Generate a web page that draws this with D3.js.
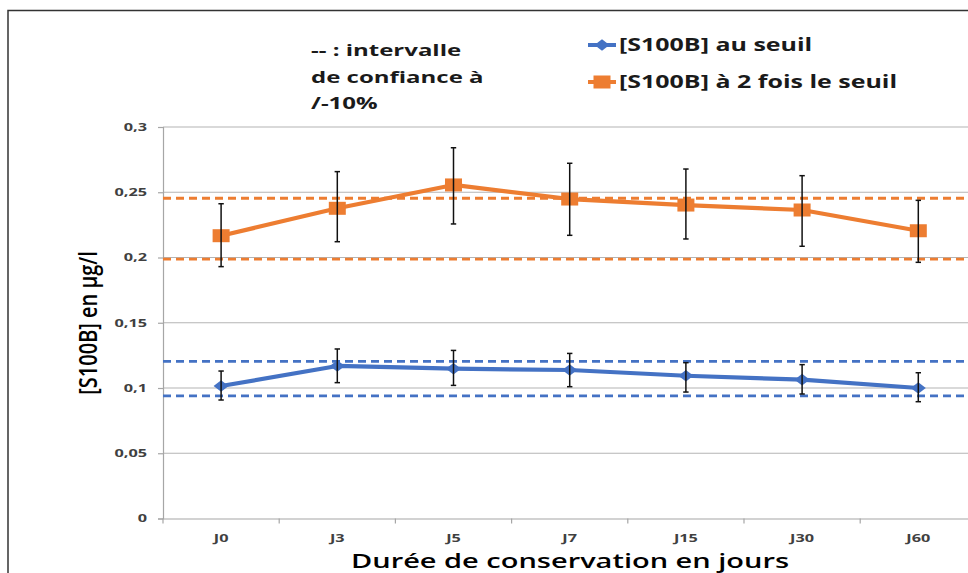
<!DOCTYPE html>
<html><head><meta charset="utf-8">
<script src="https://cdn.jsdelivr.net/npm/d3@7/dist/d3.min.js"></script>
<style>html,body{margin:0;padding:0;overflow:hidden;background:#fff}</style>
</head><body><svg id="c" width="968" height="573"></svg>
<script>
const categories = ["J0","J3","J5","J7","J15","J30","J60"];
const seuilValues = [0.1015,0.1169,0.1148,0.1138,0.1094,0.1064,0.1000];
const seuilErrLow = [0.0908,0.1041,0.1020,0.1010,0.0969,0.0954,0.0895];
const seuilErrHigh = [0.1130,0.1299,0.1288,0.1265,0.1194,0.1179,0.1117];
const doubleValues = [0.2167,0.2377,0.2556,0.2448,0.2402,0.2364,0.2205];
const doubleErrLow = [0.1930,0.2121,0.2257,0.2170,0.2142,0.2086,0.1963];
const doubleErrHigh = [0.2412,0.2658,0.2841,0.2722,0.2678,0.2627,0.2438];
const seuilCI = [0.0940,0.1204];
const doubleCI = [0.1988,0.2454];
const yTicks = [0,0.05,0.1,0.15,0.2,0.25,0.3];
const yTickLabels = ["0","0,05","0,1","0,15","0,2","0,25","0,3"];
const seriesNames = ["[S100B] au seuil","[S100B] à 2 fois le seuil"];
const noteLines = ["-- : intervalle","de confiance à","/-10%"];
const yTitle = "[S100B] en µg/l";
const xTitle = "Durée de conservation en jours";

const blue = "#4472C4", orange = "#ED7D31";
const svg = d3.select("#c");
const font = "'Open Sans', sans-serif";

// outer border
svg.append("path").attr("d","M8,573V10.5H968").attr("fill","none").attr("stroke","#333").attr("stroke-width",1.5);

const left = 163, bandW = 116.2;
const x = d3.scaleBand().domain(categories).range([left, left + bandW*categories.length]).padding(0);
const y = d3.scaleLinear().domain([0,0.3]).range([518.5,127]);
const cx = c => x(c) + x.bandwidth()/2;

// gridlines
svg.append("g").selectAll("line").data(yTicks.slice(1)).join("line")
  .attr("x1",left).attr("x2",968).attr("y1",d=>y(d)).attr("y2",d=>y(d))
  .attr("stroke","#b4b4b4").attr("stroke-width",1.2);

// y axis
const yAxis = d3.axisLeft(y).tickValues(yTicks).tickFormat((d,i)=>yTickLabels[i]).tickSize(5);
const gy = svg.append("g").attr("transform",`translate(${left},0)`).call(yAxis);
gy.select(".domain").attr("stroke","#a6a6a6").attr("stroke-width",1.2);
gy.selectAll(".tick line").attr("stroke","#a6a6a6").attr("stroke-width",1.2);
gy.selectAll("text").attr("font-family",font).attr("font-weight","bold").attr("font-size",10.5).attr("fill","#404040")
  .attr("x",-16/1.55).attr("transform","scale(1.55,1)");

// x axis
const xAxis = d3.axisBottom(x).tickSize(0).tickPadding(16);
const gx = svg.append("g").attr("transform",`translate(0,${y(0)})`).call(xAxis);
gx.select(".domain").attr("stroke","#a6a6a6").attr("stroke-width",1.2);
gx.selectAll("text").attr("font-family",font).attr("font-weight","bold").attr("font-size",10.5).attr("fill","#404040")
  .attr("transform","scale(1.55,1)");
// category boundary ticks
svg.append("g").selectAll("line").data(categories).join("line")
  .attr("x1",d=>x(d)).attr("x2",d=>x(d)).attr("y1",y(0)).attr("y2",y(0)+5)
  .attr("stroke","#a6a6a6").attr("stroke-width",1.2);

// CI dashed lines
function ciLines(vals,color){
  svg.append("g").selectAll("line").data(vals).join("line")
    .attr("x1",left).attr("x2",968).attr("y1",d=>y(d)).attr("y2",d=>y(d))
    .attr("stroke",color).attr("stroke-width",2.8).attr("stroke-dasharray","8,5");
}
ciLines(doubleCI,orange);
ciLines(seuilCI,blue);

// series lines
const line = d3.line().x((d,i)=>cx(categories[i])).y(d=>y(d));
function series(vals,color){
  svg.append("path").datum(vals).attr("d",line).attr("fill","none")
    .attr("stroke",color).attr("stroke-width",4.2).attr("stroke-linejoin","round");
}
series(doubleValues,orange);
series(seuilValues,blue);

// markers
svg.append("g").selectAll("rect").data(doubleValues).join("rect")
  .attr("x",(d,i)=>cx(categories[i])-8.5).attr("y",d=>y(d)-6.5).attr("width",17).attr("height",13).attr("fill",orange);
const diamond = d3.symbol().type(d3.symbolDiamond2).size(85);
svg.append("g").selectAll("path").data(seuilValues).join("path")
  .attr("transform",(d,i)=>`translate(${cx(categories[i])},${y(d)}) scale(1.3,1)`).attr("d",diamond).attr("fill",blue);

// error bars
function errBars(lo,hi){
  const g = svg.append("g").attr("stroke","#111").attr("stroke-width",1.5);
  categories.forEach((c,i)=>{
    g.append("line").attr("x1",cx(c)).attr("x2",cx(c)).attr("y1",y(lo[i])).attr("y2",y(hi[i]));
    g.append("line").attr("x1",cx(c)-2.7).attr("x2",cx(c)+2.7).attr("y1",y(lo[i])).attr("y2",y(lo[i]));
    g.append("line").attr("x1",cx(c)-2.7).attr("x2",cx(c)+2.7).attr("y1",y(hi[i])).attr("y2",y(hi[i]));
  });
}
errBars(doubleErrLow,doubleErrHigh);
errBars(seuilErrLow,seuilErrHigh);

// titles
svg.append("text").attr("transform","translate(97,323) rotate(-90) scale(1,1.3)").attr("text-anchor","middle")
  .attr("font-family",font).attr("font-weight","600").attr("font-size",20).attr("fill","#000").text(yTitle);
svg.append("text").attr("transform","translate(570,568) scale(1.45,1)").attr("text-anchor","middle")
  .attr("font-family",font).attr("font-weight","600").attr("font-size",20).attr("fill","#000").text(xTitle);

// note
svg.append("g").selectAll("text").data(noteLines).join("text")
  .attr("transform",(d,i)=>`translate(311,${56+i*26.5}) scale(1.5,1)`)
  .attr("font-family",font).attr("font-weight","bold").attr("font-size",16).attr("fill","#1a1a1a").text(d=>d);

// legend
const leg = svg.append("g");
const legY = [45,82];
leg.append("line").attr("x1",588).attr("x2",616).attr("y1",legY[0]).attr("y2",legY[0]).attr("stroke",blue).attr("stroke-width",4);
leg.append("path").attr("transform",`translate(602,${legY[0]}) scale(1.3,1)`).attr("d",diamond).attr("fill",blue);
leg.append("line").attr("x1",588).attr("x2",616).attr("y1",legY[1]).attr("y2",legY[1]).attr("stroke",orange).attr("stroke-width",4);
leg.append("rect").attr("x",593.5).attr("y",legY[1]-6.5).attr("width",17).attr("height",13).attr("fill",orange);
leg.selectAll("text").data(seriesNames).join("text")
  .attr("transform",(d,i)=>`translate(619,${legY[i]+6}) scale(1.47,1)`)
  .attr("font-family",font).attr("font-weight","bold").attr("font-size",17).attr("fill","#1a1a1a").text(d=>d);
</script></body></html>
